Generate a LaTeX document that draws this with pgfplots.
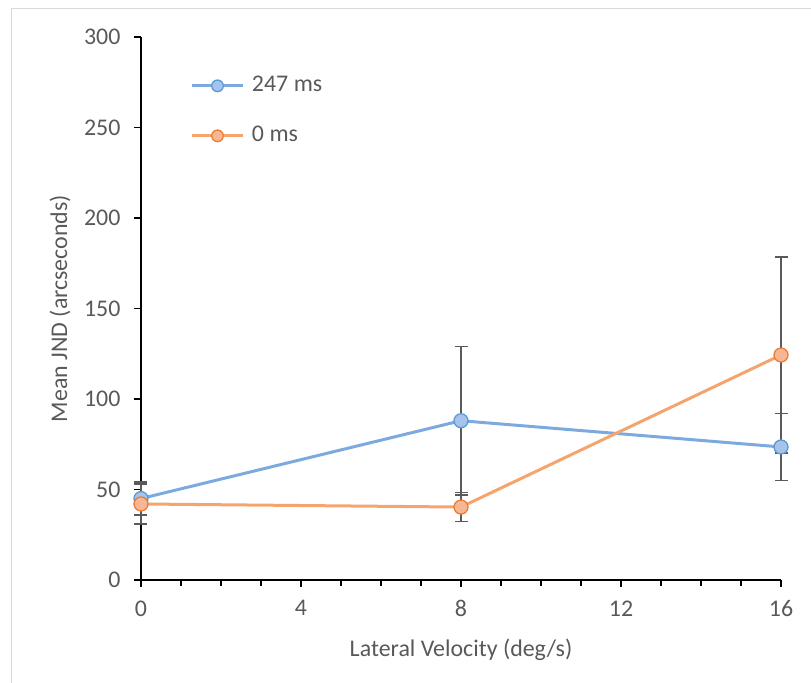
\documentclass[border=0pt]{standalone}
\usepackage{pgfplots}
\pgfplotsset{compat=1.18}
\usepackage{fontspec}
\setmainfont{Carlito}
\definecolor{txtgray}{RGB}{89,89,89}
\definecolor{bline}{RGB}{124,170,222}
\definecolor{bfill}{RGB}{165,195,235}
\definecolor{bedge}{RGB}{91,155,213}
\definecolor{oline}{RGB}{244,165,110}
\definecolor{ofill}{RGB}{247,182,150}
\definecolor{oedge}{RGB}{237,125,49}
\definecolor{errgray}{RGB}{90,90,90}
\definecolor{framegray}{RGB}{217,217,217}
\begin{document}
\begin{tikzpicture}
\useasboundingbox (-141bp,-103bp) rectangle (670bp,580bp);
\draw[framegray, line width=1.2bp] (-129.5bp,-110bp) -- (-129.5bp,571.5bp) -- (680bp,571.5bp);
\begin{axis}[
  scale only axis,
  width=640bp, height=543bp,
  xmin=0, xmax=16, ymin=0, ymax=300,
  clip=false,
  axis x line*=bottom, axis y line*=left,
  axis line style={-, line width=1.5bp, black},
  xtick={0,4,8,12,16},
  minor x tick num=3,
  ytick={0,50,100,150,200,250,300},
  tick align=outside,
  major tick length=7bp, minor tick length=6bp,
  every tick/.style={black, line width=1.3bp},
  every minor tick/.style={black, line width=1.3bp},
  tick label style={font=\fontsize{24}{28}\selectfont, text=txtgray},
  /pgf/number format/assume math mode=true,
  xticklabel style={yshift=-10bp},
  yticklabel style={xshift=-10bp},
  label style={font=\fontsize{24}{28}\selectfont, text=txtgray},
  xlabel={Lateral Velocity (deg/s)},
  ylabel={Mean JND (arcseconds)},
  xlabel style={at={(axis description cs:0.5,-0.1289)}, anchor=center},
  ylabel style={at={(axis description cs:-0.1266,0.5)}, anchor=center},
  legend style={draw=none, fill=none, inner sep=0pt, outer sep=0pt,
    at={(axis cs:1.25,259.2)}, anchor=west,
    font=\fontsize{24}{28}\selectfont, text=txtgray,
    nodes={inner sep=0pt, text height=16bp, text depth=5bp},
    row sep=29bp, column sep=8bp},
  legend cell align=left,
  legend image code/.code={\draw[#1, mark repeat=2, mark phase=2, mark size=5.8bp] plot coordinates {(0bp,0bp) (25bp,0bp) (50bp,0bp)};},
  error bars/error bar style={errgray, line width=1.8bp},
  error bars/error mark options={rotate=90, mark size=6.5bp, errgray, line width=1.8bp},
]
\addplot[bline, line width=3bp, mark=*, mark size=7bp,
  mark options={fill=bfill, draw=bedge, line width=1.3bp},
  error bars/.cd, y dir=both, y explicit]
  coordinates {
    (0,45) +- (0,9)
    (8,88) +- (0,41)
    (16,73.5) +- (0,18.5)
  };
\addlegendentry{247 ms}
\addplot[oline, line width=3bp, mark=*, mark size=7bp,
  mark options={fill=ofill, draw=oedge, line width=1.3bp},
  error bars/.cd, y dir=both, y explicit]
  coordinates {
    (0,42) +- (0,11)
    (8,40.3) +- (0,8)
    (16,124.3) +- (0,54)
  };
\addlegendentry{0 ms}
\end{axis}
\end{tikzpicture}
\end{document}
